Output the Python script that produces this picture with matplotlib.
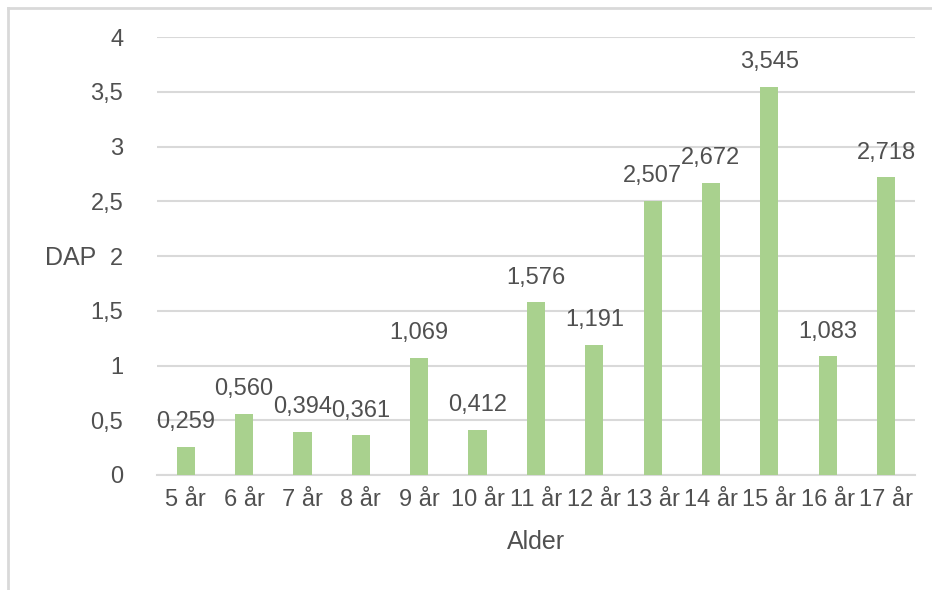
import matplotlib.pyplot as plt
from matplotlib.lines import Line2D

ages = ['5 år', '6 år', '7 år', '8 år', '9 år', '10 år', '11 år', '12 år',
        '13 år', '14 år', '15 år', '16 år', '17 år']
dap = [0.259, 0.560, 0.394, 0.361, 1.069, 0.412, 1.576, 1.191,
       2.507, 2.672, 3.545, 1.083, 2.718]
yticks = [0, 0.5, 1, 1.5, 2, 2.5, 3, 3.5, 4]

BAR = '#a9d18e'
TEXT = '#505050'
GRID = '#d9d9d9'

plt.rcParams['font.family'] = ['Liberation Sans', 'DejaVu Sans']


def comma(v, digits):
    return f'{v:.{digits}f}'.replace('.', ',')


fig = plt.figure(figsize=(9.32, 5.90), dpi=100)
ax = fig.add_axes([0.168, 0.195, 0.814, 0.742])

x = range(len(ages))
ax.bar(x, dap, width=0.31, color=BAR, zorder=3)
for xi, v in zip(x, dap):
    ax.annotate(comma(v, 3), (xi, v), xytext=(0, 13.5), textcoords='offset points',
                ha='center', va='baseline', fontsize=17, color=TEXT)

ax.set_xlim(-0.5, len(ages) - 0.5)
ax.set_ylim(0, 4)
ax.set_yticks(yticks)
ax.set_yticklabels([comma(t, 1).replace(',0', '') for t in yticks])
ax.set_xticks(list(x))
ax.set_xticklabels(ages)
ax.grid(axis='y', color=GRID, linewidth=1.5, zorder=0)
ax.tick_params(length=0, labelsize=17, colors=TEXT)
ax.tick_params(axis='y', pad=24)
ax.tick_params(axis='x', pad=10)
for side in ['top', 'right', 'left']:
    ax.spines[side].set_visible(False)
ax.spines['bottom'].set_color(GRID)
ax.spines['bottom'].set_linewidth(1.5)

ax.set_xlabel('Alder', fontsize=18, color=TEXT, labelpad=14)
fig.text(45 / 932, 1 - 258 / 590, 'DAP', fontsize=18, color=TEXT, va='center', ha='left')

# thin frame around the chart area
fig.add_artist(Line2D([8 / 932, 1], [1 - 8 / 590, 1 - 8 / 590], color=GRID, linewidth=2))
fig.add_artist(Line2D([8 / 932, 8 / 932], [0, 1 - 8 / 590], color=GRID, linewidth=2))

fig.savefig('out.png', dpi=100)
